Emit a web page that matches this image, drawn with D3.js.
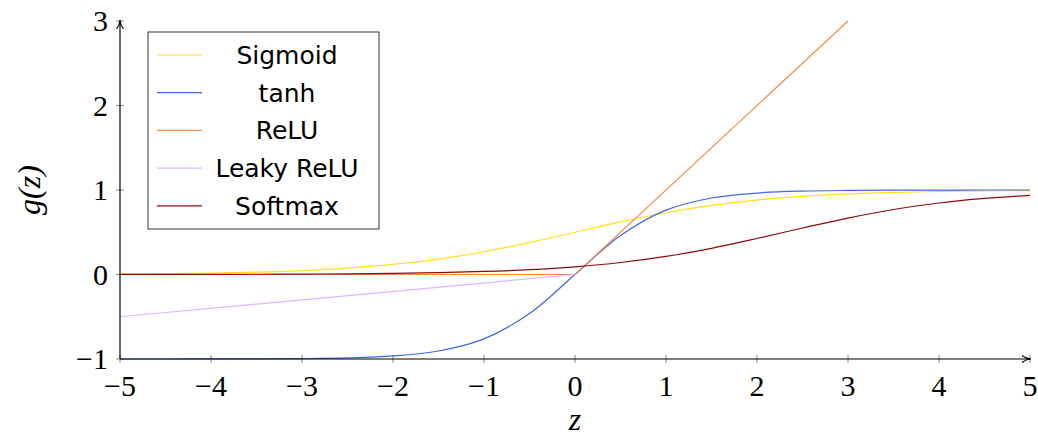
<!DOCTYPE html>
<html>
<head>
<meta charset="utf-8">
<script src="https://cdn.jsdelivr.net/npm/d3@7"></script>
<style>
  body { margin: 0; background: #fff; }
  svg { display: block; }
</style>
</head>
<body>
<div class="chart"></div>
<script>
// values
const zValues = [-5, -4.5, -4, -3.5, -3, -2.5, -2, -1.5, -1, -0.5, 0, 0.5, 1, 1.5, 2, 2.5, 3, 3.5, 4, 4.5, 5];
const sigmoidValues = [0.007, 0.011, 0.018, 0.029, 0.047, 0.076, 0.119, 0.182, 0.269, 0.378, 0.5, 0.622, 0.731, 0.818, 0.881, 0.924, 0.953, 0.971, 0.982, 0.989, 0.993];
const tanhValues = [-1.0, -1.0, -0.999, -0.998, -0.995, -0.987, -0.964, -0.905, -0.762, -0.462, 0, 0.462, 0.762, 0.905, 0.964, 0.987, 0.995, 0.998, 0.999, 1.0, 1.0];
const softmaxValues = [0.001, 0.001, 0.002, 0.003, 0.005, 0.008, 0.013, 0.022, 0.036, 0.057, 0.091, 0.142, 0.214, 0.31, 0.426, 0.55, 0.668, 0.769, 0.846, 0.9, 0.937];
const reluZ = [-5, 0, 3];
const reluValues = [0, 0, 3];
const leakyZ = [-5, 0];
const leakyValues = [-0.5, 0];

const seriesNames = ["Sigmoid", "tanh", "ReLU", "Leaky ReLU", "Softmax"];
const seriesColors = ["#ffdf1a", "#4266dd", "#f58c45", "#dcb8ff", "#8b0a0a"];
const xTicks = [-5, -4, -3, -2, -1, 0, 1, 2, 3, 4, 5];
const yTicks = [-1, 0, 1, 2, 3];

const width = 1038, height = 437;
const margin = { top: 21, right: 8, bottom: 78, left: 120 };
const serif = '"Liberation Serif"';

const x = d3.scaleLinear().domain([-5, 5]).range([margin.left, width - margin.right]);
const y = d3.scaleLinear().domain([-1, 3]).range([height - margin.bottom, margin.top]);

const svg = d3.select(".chart").append("svg")
  .attr("width", width)
  .attr("height", height);

const zip = (xs, ys) => xs.map((z, i) => [z, ys[i]]);
const series = [
  { name: "Sigmoid", pts: zip(zValues, sigmoidValues), smooth: true },
  { name: "tanh", pts: zip(zValues, tanhValues), smooth: true },
  { name: "ReLU", pts: zip(reluZ, reluValues), smooth: false },
  { name: "Leaky ReLU", pts: zip(leakyZ, leakyValues), smooth: false },
  { name: "Softmax", pts: zip(zValues, softmaxValues), smooth: true }
];

const color = d3.scaleOrdinal().domain(seriesNames).range(seriesColors);

// minus sign like the TeX one
const fmt = d => (d < 0 ? "\u2212" : "") + Math.abs(d);

// tick labels drawn as plain text elements
svg.append("g").selectAll("text").data(xTicks).join("text")
  .attr("x", d => x(d)).attr("y", y(-1) + 37)
  .attr("text-anchor", "middle")
  .style("font-family", serif).style("font-size", "30px")
  .text(fmt);
svg.append("g").selectAll("text").data(yTicks).join("text")
  .attr("x", x(-5) - 12).attr("y", d => y(d) + 10)
  .attr("text-anchor", "end")
  .style("font-family", serif).style("font-size", "30px")
  .text(fmt);

// small gray tick marks on both sides of axis lines
svg.append("g").selectAll("line").data(xTicks).join("line")
  .attr("x1", d => x(d)).attr("x2", d => x(d))
  .attr("y1", y(-1) - 4).attr("y2", y(-1) + 4)
  .attr("stroke", "#888").attr("stroke-width", 1);
svg.append("g").selectAll("line").data(yTicks).join("line")
  .attr("x1", x(-5) - 4).attr("x2", x(-5) + 4)
  .attr("y1", d => y(d)).attr("y2", d => y(d))
  .attr("stroke", "#888").attr("stroke-width", 1);

// curves
const line = d3.line().x(d => x(d[0])).y(d => y(d[1]));
series.forEach(s => {
  svg.append("path")
    .datum(s.pts)
    .attr("fill", "none")
    .attr("stroke", color(s.name))
    .attr("stroke-width", 1.2)
    .attr("d", line.curve(s.smooth ? d3.curveCatmullRom : d3.curveLinear));
});

// axis lines with arrows
svg.append("defs").append("marker")
  .attr("id", "arrow")
  .attr("viewBox", "0 -5 10 10")
  .attr("refX", 9).attr("refY", 0)
  .attr("markerWidth", 9).attr("markerHeight", 9)
  .attr("markerUnits", "userSpaceOnUse")
  .attr("orient", "auto")
  .append("path")
  .attr("d", "M0,-4 Q4,-0.5 10,0 Q4,0.5 0,4")
  .attr("fill", "none").attr("stroke", "#000").attr("stroke-width", 1.2);

svg.append("line")
  .attr("x1", x(-5)).attr("x2", x(5))
  .attr("y1", y(-1)).attr("y2", y(-1))
  .attr("stroke", "#000").attr("stroke-width", 1.2)
  .attr("marker-end", "url(#arrow)");
svg.append("line")
  .attr("x1", x(-5)).attr("x2", x(-5))
  .attr("y1", y(-1)).attr("y2", y(3))
  .attr("stroke", "#000").attr("stroke-width", 1.2)
  .attr("marker-end", "url(#arrow)");

// axis titles
svg.append("text")
  .attr("x", x(0)).attr("y", 430)
  .attr("text-anchor", "middle")
  .style("font-family", serif)
  .style("font-style", "italic").style("font-size", "32px")
  .text("z");
svg.append("text")
  .attr("transform", `translate(40,${y(1)}) rotate(-90)`)
  .attr("text-anchor", "middle")
  .style("font-family", serif)
  .style("font-style", "italic").style("font-size", "32px")
  .text("g(z)");

// legend
const legend = svg.append("g").attr("transform", "translate(148,32)");
legend.append("rect")
  .attr("width", 231).attr("height", 197)
  .attr("fill", "#fff").attr("stroke", "#333").attr("stroke-width", 1);
const rows = legend.selectAll("g").data(seriesNames).join("g")
  .attr("transform", (d, i) => `translate(0,${23 + i * 37.7})`);
rows.append("line")
  .attr("x1", 9).attr("x2", 54)
  .attr("stroke", d => color(d)).attr("stroke-width", 1.2);
rows.append("text")
  .attr("x", 139).attr("y", 9)
  .attr("text-anchor", "middle")
  .style("font-family", '"DejaVu Sans"').style("font-size", "25px")
  .text(d => d);
</script>
</body>
</html>
